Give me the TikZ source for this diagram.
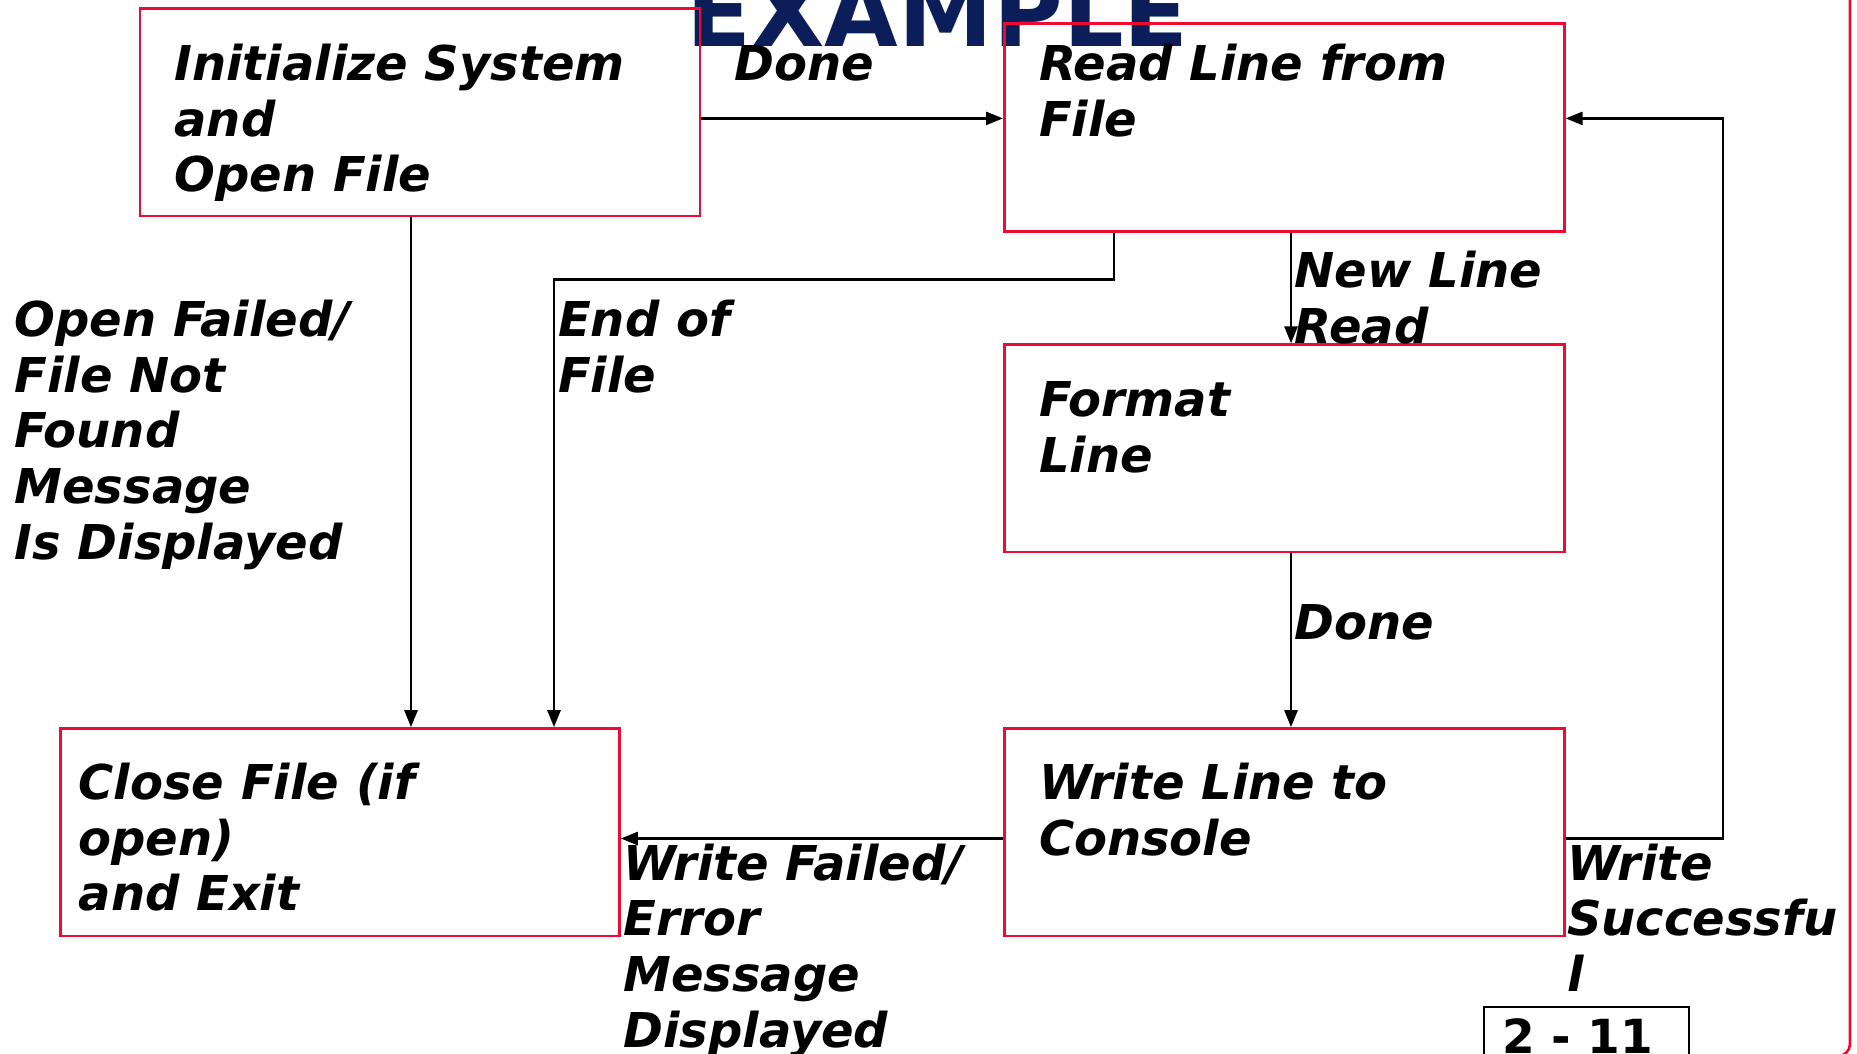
\documentclass[tikz,border=0pt]{standalone}
\usepackage{fontspec}
\setmainfont{DejaVu Sans}
\usetikzlibrary{arrows.meta}
\definecolor{boxred}{RGB}{240,10,50}
\definecolor{titlenavy}{RGB}{12,30,90}
% multi-line label whose baseline is that of its first line
\newcommand{\mlines}[1]{\begin{tabular}[t]{@{}l@{}}#1\end{tabular}}
\begin{document}
\begin{tikzpicture}[x=0.5pt,y=-0.5pt,
  stepbox/.style={draw=boxred, line width=1.3pt, inner sep=0pt, anchor=north west},
  flow/.style={draw=black, line width=1.3pt, -{Triangle[length=8.5pt,width=6.5pt]}},
  lbl/.style={anchor=base west, inner sep=0pt,
    font=\fontsize{24pt}{27.85pt}\selectfont\bfseries\itshape},
  pagefont/.style={anchor=base west, inner sep=0pt,
    font=\fontsize{23.5pt}{27pt}\selectfont\bfseries}]
\useasboundingbox (0,0) rectangle (1857,1054);
\clip (0,0) rectangle (1857,1054);

% heading, partly above the page
\node[anchor=base west, inner sep=0pt, text=titlenavy,
  font=\fontsize{47.6pt}{50pt}\selectfont\bfseries] (title) at (686,47) {EXAMPLE};

% slide frame
\draw[boxred, line width=1.3pt, rounded corners=6pt] (-60,-60) rectangle (1850,1056);

% process boxes
\node[stepbox, minimum width=280pt, minimum height=103.7pt] (init)   at (138.6,7.1) {};
\node[stepbox, minimum width=280pt, minimum height=103.7pt] (read)   at (1003,22.5) {};
\node[stepbox, minimum width=280pt, minimum height=103.7pt] (format) at (1003,343.4) {};
\node[stepbox, minimum width=280pt, minimum height=103.7pt] (write)  at (1003,727.2) {};
\node[stepbox, minimum width=279.5pt, minimum height=103.7pt] (close) at (59.2,727.2) {};

% box texts
\node[lbl] (tinit)   at (174.1,80.5)  {\mlines{Initialize System\\and\\Open File}};
\node[lbl] (tread)   at (1038.6,80.5) {\mlines{Read Line from\\File}};
\node[lbl] (tformat) at (1038.6,416.9) {\mlines{Format\\Line}};
\node[lbl] (twrite)  at (1038.6,799.4) {\mlines{Write Line to\\Console}};
\node[lbl] (tclose)  at (78.2,799.4)  {\mlines{Close File (if\\open)\\and Exit}};

% transitions
\draw[flow] (init.east |- 0,118.4) -- (read.west |- 0,118.4);
\draw[flow] (init.south -| 411,0) -- (close.north -| 411,0);
\draw[flow] (read.south -| 1114,0) |- (554,279.5) -- (close.north -| 554,0);
\draw[flow] (read.south -| 1291,0) -- (format.north -| 1291,0);
\draw[flow] (format.south -| 1291,0) -- (write.north -| 1291,0);
\draw[flow] (write.west |- 0,838.5) -- (close.east |- 0,838.5);
\draw[flow] (write.east |- 0,838.5) -| (1723,118.4) -- (read.east |- 0,118.4);

% transition labels
\node[lbl] (ldone1) at (734.3,80.5)  {Done};
\node[lbl] (lfail)  at (14.2,336.3)  {\mlines{Open Failed/\\File Not\\Found\\Message\\Is Displayed}};
\node[lbl] (leof)   at (557.8,336.3) {\mlines{End of\\File}};
\node[lbl] (lnew)   at (1294.4,287.8) {\mlines{New Line\\Read}};
\node[lbl] (ldone2) at (1294.4,639.5) {Done};
\node[lbl] (lwfail) at (623,880)     {\mlines{Write Failed/\\Error\\Message\\Displayed}};
\node[lbl] (lwok)   at (1566.8,880)  {\mlines{Write\\Successfu\\l}};

% page number
\draw[black, line width=1.3pt] (1484,1080) |- (1689,1007) -- (1689,1080);
\node[pagefont] (pagenum) at (1502,1053) {2 - 11};
\end{tikzpicture}
\end{document}
